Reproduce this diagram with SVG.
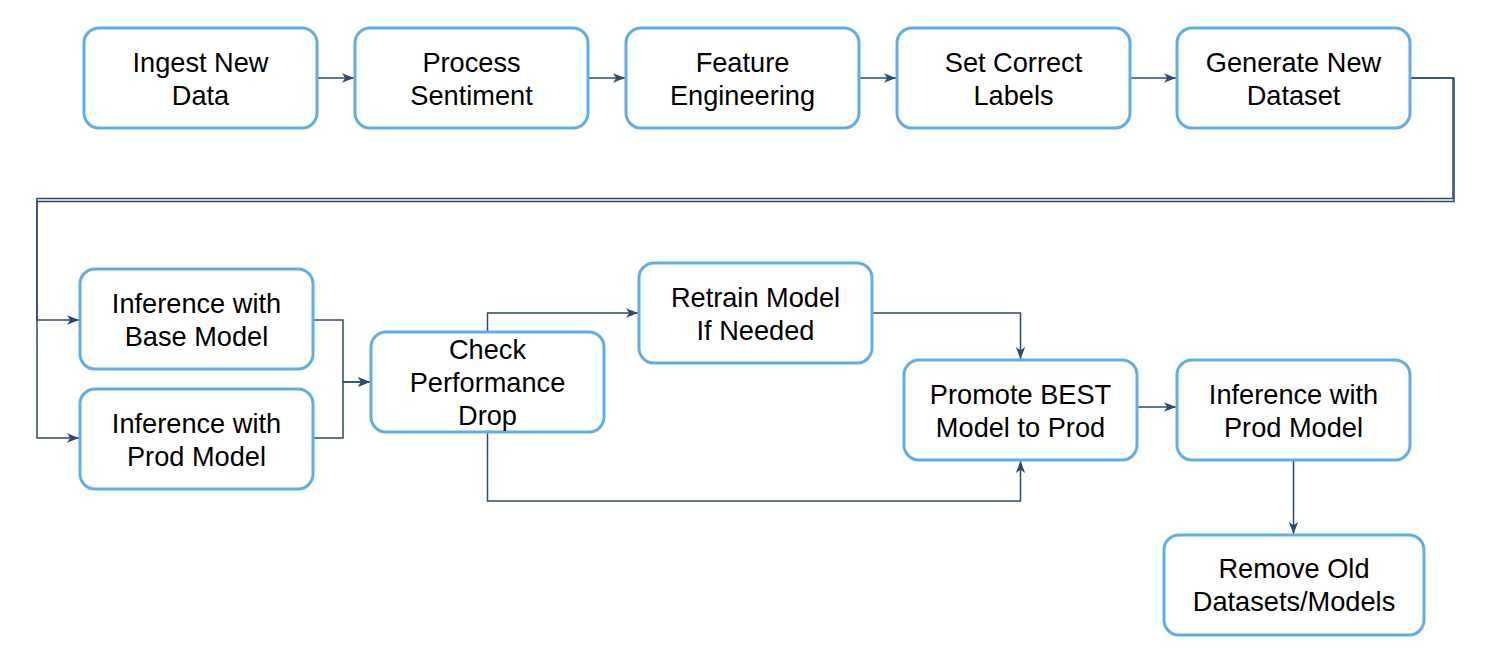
<svg xmlns="http://www.w3.org/2000/svg" width="1501" height="656" viewBox="0 0 1501 656">
<style>
.box{fill:#fff;stroke:#63ade5;stroke-width:3}
.lbl{font-family:"Liberation Sans",Arial,sans-serif;font-size:27.2px;fill:#000;text-anchor:middle}
.edge{fill:none;stroke:#2f4a70;stroke-width:1.5}
</style>
<defs>
<marker id="arr" markerUnits="userSpaceOnUse" markerWidth="13" markerHeight="11" viewBox="0 0 13 11" refX="12" refY="5.5" orient="auto">
<path d="M0,0.8 L12,5.5 L0,10.2 L3.2,5.5 Z" fill="#2f4a70"/>
</marker>
</defs>
<rect width="1501" height="656" fill="#fff"/>
<g id="connectors">
<path class="edge" d="M317,78 H354" marker-end="url(#arr)"/>
<path class="edge" d="M588,78 H625" marker-end="url(#arr)"/>
<path class="edge" d="M859,78 H896" marker-end="url(#arr)"/>
<path class="edge" d="M1130,78 H1176" marker-end="url(#arr)"/>
<path class="edge" d="M1410,78 H1453 V198.5 H37 V320 H79" marker-end="url(#arr)"/>
<path class="edge" d="M1410,78 H1454 V201.5 H37 V438 H79" marker-end="url(#arr)"/>
<path class="edge" d="M313,320 H343 V382 H370" marker-end="url(#arr)"/>
<path class="edge" d="M313,438 H343 V382 H370" marker-end="url(#arr)"/>
<path class="edge" d="M487.5,332 V313 H638" marker-end="url(#arr)"/>
<path class="edge" d="M872,313 H1020.5 V359" marker-end="url(#arr)"/>
<path class="edge" d="M487.5,432 V501 H1020.5 V461" marker-end="url(#arr)"/>
<path class="edge" d="M1137,407 H1176" marker-end="url(#arr)"/>
<path class="edge" d="M1293.5,460 V534" marker-end="url(#arr)"/>
</g>
<g id="ingest"><rect class="box" x="84" y="28" width="233" height="100" rx="15"/><text class="lbl" x="200.5" y="72">Ingest New</text><text class="lbl" x="200.5" y="105">Data</text></g>
<g id="process"><rect class="box" x="355" y="28" width="233" height="100" rx="15"/><text class="lbl" x="471.5" y="72">Process</text><text class="lbl" x="471.5" y="105">Sentiment</text></g>
<g id="feature"><rect class="box" x="626" y="28" width="233" height="100" rx="15"/><text class="lbl" x="742.5" y="72">Feature</text><text class="lbl" x="742.5" y="105">Engineering</text></g>
<g id="labels"><rect class="box" x="897" y="28" width="233" height="100" rx="15"/><text class="lbl" x="1013.5" y="72">Set Correct</text><text class="lbl" x="1013.5" y="105">Labels</text></g>
<g id="generate"><rect class="box" x="1177" y="28" width="233" height="100" rx="15"/><text class="lbl" x="1293.5" y="72">Generate New</text><text class="lbl" x="1293.5" y="105">Dataset</text></g>
<g id="infbase"><rect class="box" x="80" y="269" width="233" height="100" rx="15"/><text class="lbl" x="196.5" y="313">Inference with</text><text class="lbl" x="196.5" y="346">Base Model</text></g>
<g id="infprod"><rect class="box" x="80" y="389" width="233" height="100" rx="15"/><text class="lbl" x="196.5" y="433">Inference with</text><text class="lbl" x="196.5" y="466">Prod Model</text></g>
<g id="check"><rect class="box" x="371" y="332" width="233" height="100" rx="15"/><text class="lbl" x="487.5" y="359">Check</text><text class="lbl" x="487.5" y="392">Performance</text><text class="lbl" x="487.5" y="425">Drop</text></g>
<g id="retrain"><rect class="box" x="639" y="263" width="233" height="100" rx="15"/><text class="lbl" x="755.5" y="307">Retrain Model</text><text class="lbl" x="755.5" y="340">If Needed</text></g>
<g id="promote"><rect class="box" x="904" y="360" width="233" height="100" rx="15"/><text class="lbl" x="1020.5" y="404">Promote BEST</text><text class="lbl" x="1020.5" y="437">Model to Prod</text></g>
<g id="infprod2"><rect class="box" x="1177" y="360" width="233" height="100" rx="15"/><text class="lbl" x="1293.5" y="404">Inference with</text><text class="lbl" x="1293.5" y="437">Prod Model</text></g>
<g id="remove"><rect class="box" x="1164" y="535" width="260" height="100" rx="15"/><text class="lbl" x="1294" y="578">Remove Old</text><text class="lbl" x="1294" y="611">Datasets/Models</text></g>
</svg>
